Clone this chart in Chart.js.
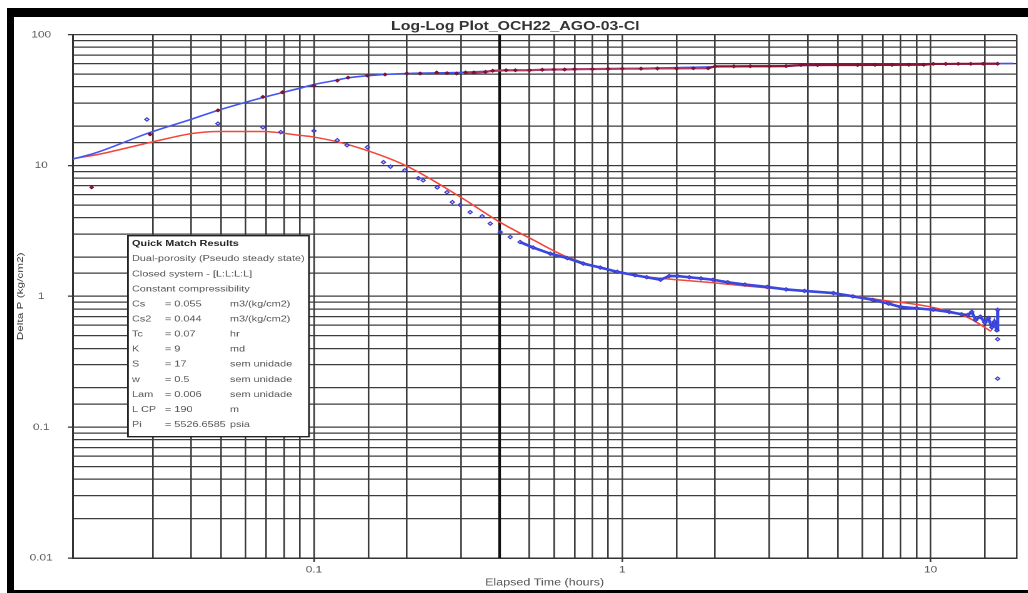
<!DOCTYPE html>
<html>
<head>
<meta charset="utf-8">
<script src="https://cdn.jsdelivr.net/npm/chart.js@4.4.1/dist/chart.umd.min.js"></script>
<style>
  html, body { margin: 0; padding: 0; background: #fff; }
  body { width: 1028px; height: 593px; position: relative; overflow: hidden; }
  .bar { position: absolute; background: #000; }
  /* the reference is stretched sideways, so the chart is drawn narrow and widened */
  #wrap { position: absolute; left: 14px; top: 17px; width: 811px; height: 573px;
          transform: scaleX(1.25); transform-origin: 0 0; }
</style>
</head>
<body>
<div class="bar" style="left:7px;top:8px;width:1021px;height:9px"></div>
<div class="bar" style="left:7px;top:8px;width:7px;height:585px"></div>
<div class="bar" style="left:7px;top:590px;width:1021px;height:3px"></div>
<div id="wrap"><canvas id="plot"></canvas></div>
<script>
const chartTitle = 'Log-Log Plot_OCH22_AGO-03-CI';
const xTitle = 'Elapsed Time (hours)';
const yTitle = 'Delta P (kg/cm2)';
const xRange = [0.0165, 19];
const yRange = [0.01, 100];
const markerTime = 0.4;

// pressure model (blue line)
const pModelT = [0.0165, 0.0194, 0.0294, 0.0405, 0.0488, 0.0683, 0.09, 0.1, 0.113, 0.131, 0.168, 0.2, 0.3, 0.4, 0.6, 1.0, 2.0, 4.0, 8.0, 12, 18.5];
const pModelP = [11.2, 12.4, 17.9, 22.8, 26.4, 33.1, 39.0, 41.6, 44.0, 47.0, 49.6, 50.5, 51.5, 53.0, 54.0, 55.0, 56.8, 58.2, 59.3, 59.8, 60.3];

// derivative model (red line)
const dModelT = [0.0165, 0.0194, 0.0294, 0.0405, 0.0488, 0.0683, 0.09, 0.1, 0.131, 0.2, 0.3, 0.4, 0.514, 0.663, 1.0, 1.97, 2.95, 4.84, 6.87, 10, 13.2, 15.7];
const dModelD = [11.3, 12.0, 15.0, 17.6, 18.2, 18.2, 17.0, 16.5, 14.3, 9.9, 5.7, 3.7, 2.7, 2.0, 1.51, 1.27, 1.16, 1.06, 0.94, 0.83, 0.69, 0.54];

// measured pressure
const pDataT = [0.019, 0.0294, 0.0488, 0.0683, 0.079, 0.1, 0.119, 0.129, 0.149, 0.17, 0.2, 0.221, 0.25, 0.27, 0.29, 0.31, 0.33, 0.36, 0.38, 0.42, 0.45, 0.5, 0.55, 0.6, 0.65, 0.7, 0.8, 0.9, 1.0, 1.15, 1.3, 1.5, 1.7, 1.9, 2.0, 2.3, 2.6, 3.0, 3.4, 3.8, 4.3, 5.0, 5.8, 6.6, 7.5, 8.5, 9.5, 10.2, 11.2, 12.3, 13.5, 14.8, 16.5];
const pDataP = [6.8, 17.3, 26.4, 33.5, 36.3, 40.7, 44.6, 47, 48.7, 49.6, 50.5, 50.5, 51.4, 50.8, 50.5, 51.4, 51.4, 52, 53, 53.5, 53.5, 53.5, 54, 54.2, 54.2, 54.5, 54.6, 54.8, 55, 55, 55.2, 55.2, 55.4, 55.4, 57.3, 57.3, 57.4, 57.4, 57.5, 58.6, 58.6, 58.7, 58.7, 58.8, 58.8, 58.9, 58.9, 59.8, 59.8, 59.9, 59.9, 60, 60];

// measured derivative
const dDataT = [0.0287, 0.0488, 0.0683, 0.078, 0.1, 0.119, 0.128, 0.149, 0.168, 0.177, 0.197, 0.218, 0.226, 0.251, 0.27, 0.281, 0.298, 0.321, 0.351, 0.373, 0.402, 0.433, 0.466, 0.514, 0.584, 0.663, 0.747, 0.848, 0.963, 1.1, 1.2, 1.33, 1.42, 1.51, 1.65, 1.8, 1.97, 2.2, 2.5, 2.95, 3.4, 3.9, 4.84, 5.6, 6.5, 7.3, 8.0, 9.0, 10.2, 11.5, 12.6, 13.2, 13.6, 14.0, 14.5, 15.0, 15.4, 15.8, 16.1, 16.4, 16.5, 16.5, 16.5];
const dDataD = [22.5, 20.9, 19.6, 18.0, 18.4, 15.6, 14.3, 13.8, 10.6, 9.8, 9.2, 8.0, 7.7, 6.8, 6.25, 5.25, 5.0, 4.4, 4.1, 3.6, 3.1, 2.84, 2.6, 2.36, 2.12, 1.96, 1.78, 1.66, 1.54, 1.45, 1.4, 1.34, 1.43, 1.43, 1.4, 1.37, 1.34, 1.28, 1.23, 1.18, 1.13, 1.1, 1.06, 1.0, 0.94, 0.88, 0.83, 0.81, 0.79, 0.76, 0.73, 0.72, 0.76, 0.66, 0.7, 0.63, 0.68, 0.58, 0.64, 0.55, 0.79, 0.47, 0.235];

// quick match text box
const matchTitle = 'Quick Match Results';
const matchNotes = ['Dual-porosity (Pseudo steady state)', 'Closed system - [L:L:L:L]', 'Constant compressibility'];
const matchNames = ['Cs', 'Cs2', 'Tc', 'K', 'S', 'w', 'Lam', 'L CP', 'Pi'];
const matchValues = ['0.055', '0.044', '0.07', '9', '17', '0.5', '0.006', '190', '5526.6585'];
const matchUnits = ['m3/(kg/cm2)', 'm3/(kg/cm2)', 'hr', 'md', 'sem unidade', 'sem unidade', 'sem unidade', 'm', 'psia'];

const FONT = '"Liberation Sans", Arial, sans-serif';
const toXY = (xs, ys) => xs.map((x, i) => ({ x: x, y: ys[i] }));
const isDecade = v => Math.abs(Math.log10(v) - Math.round(Math.log10(v))) < 1e-6;

const matchBox = {
    id: 'matchBox',
    afterDraw(chart) {
        const ctx = chart.ctx;
        const a = chart.chartArea;

        // y axis title, thin and long like the reference
        ctx.save();
        ctx.translate(5.2, (a.top + a.bottom) / 2);
        ctx.rotate(-Math.PI / 2);
        ctx.scale(1.18, 0.62);
        ctx.font = '10px ' + FONT;
        ctx.fillStyle = '#444';
        ctx.textAlign = 'center';
        ctx.textBaseline = 'middle';
        ctx.fillText(yTitle, 0, 0);
        ctx.restore();

        const bx = a.left + 44.2, by = a.top + 201, bw = 144.8, bh = 201;
        ctx.save();
        ctx.fillStyle = '#fff';
        ctx.fillRect(bx, by, bw, bh);
        ctx.strokeStyle = '#222';
        ctx.lineWidth = 1.4;
        ctx.strokeRect(bx, by, bw, bh);
        ctx.textBaseline = 'middle';
        ctx.textAlign = 'left';
        const step = 15.08;
        let y = by + 8;
        ctx.font = 'bold 8.7px ' + FONT;
        ctx.fillStyle = '#222';
        ctx.fillText(matchTitle, bx + 3.2, y);
        ctx.font = '8.7px ' + FONT;
        ctx.fillStyle = '#555';
        matchNotes.forEach(t => { y += step; ctx.fillText(t, bx + 3.2, y); });
        matchNames.forEach((n, i) => {
            y += step;
            ctx.fillText(n, bx + 3.2, y);
            ctx.fillText('= ' + matchValues[i], bx + 29.6, y);
            ctx.fillText(matchUnits[i], bx + 81.6, y);
        });
        ctx.restore();
    }
};

const gridOpts = {
    color: '#3c3c3c',
    lineWidth: 1.3,
    drawTicks: true,
    tickLength: 4,
    tickColor: c => (c.tick && isDecade(c.tick.value)) ? '#3c3c3c' : 'rgba(0,0,0,0)'
};

new Chart(document.getElementById('plot').getContext('2d'), {
    type: 'scatter',
    data: {
        datasets: [{
            label: 'Derivative data',
            data: toXY(dDataT, dDataD),
            order: 1,
            showLine: true,
            borderColor: '#3848e2',
            borderWidth: 2.6,
            segment: {
                borderColor: s => (s.p0.parsed.x >= 0.45 && s.p0.parsed.y >= 0.5 && s.p1.parsed.y >= 0.5) ? undefined : 'rgba(0,0,0,0)'
            },
            pointStyle: 'rectRot',
            pointRadius: 1.7,
            pointBorderWidth: 1,
            pointBorderColor: '#3a3ad0',
            pointBackgroundColor: 'rgba(120,130,240,0.4)'
        }, {
            label: 'Pressure data',
            data: toXY(pDataT, pDataP),
            order: 2,
            showLine: true,
            borderColor: '#8e1234',
            borderWidth: 2.2,
            segment: {
                borderColor: s => s.p0.parsed.x < 0.3 ? 'rgba(0,0,0,0)' : (s.p0.parsed.x < 1.9 ? '#b03a6a' : undefined)
            },
            pointStyle: 'rectRot',
            pointRadius: 1.4,
            pointBorderWidth: 1,
            pointBorderColor: '#7a1030',
            pointBackgroundColor: '#9a1838'
        }, {
            label: 'Pressure model',
            data: toXY(pModelT, pModelP),
            order: 3,
            showLine: true,
            cubicInterpolationMode: 'monotone',
            borderColor: '#4456f2',
            borderWidth: 1.6,
            pointRadius: 0
        }, {
            label: 'Derivative model',
            data: toXY(dModelT, dModelD),
            order: 4,
            showLine: true,
            cubicInterpolationMode: 'monotone',
            borderColor: '#f2473a',
            borderWidth: 1.5,
            pointRadius: 0
        }, {
            label: 'Marker',
            data: [{ x: markerTime, y: yRange[0] }, { x: markerTime, y: yRange[1] }],
            order: 5,
            showLine: true,
            borderColor: '#111',
            borderWidth: 2.2,
            pointRadius: 0
        }]
    },
    options: {
        responsive: true,
        maintainAspectRatio: false,
        devicePixelRatio: 2,
        animation: false,
        layout: { padding: { top: 0, right: 9, bottom: 0, left: 0 } },
        scales: {
            x: {
                type: 'logarithmic',
                min: xRange[0],
                max: xRange[1],
                afterFit: s => { s.height = 32; },
                grid: gridOpts,
                border: { display: true, color: '#333', width: 1.5 },
                ticks: {
                    autoSkip: false,
                    maxRotation: 0,
                    padding: 2,
                    color: '#555',
                    font: { family: FONT, size: 9.5 },
                    callback: v => isDecade(v) ? String(+Number(v).toPrecision(3)) : ''
                },
                title: {
                    display: true,
                    text: xTitle,
                    color: '#555',
                    font: { family: FONT, size: 10 },
                    padding: { top: 0, bottom: 1.5 }
                }
            },
            y: {
                type: 'logarithmic',
                min: yRange[0],
                max: yRange[1],
                afterFit: s => { s.width = 47; },
                grid: gridOpts,
                border: { display: true, color: '#333', width: 1.5 },
                ticks: {
                    autoSkip: false,
                    crossAlign: 'center',
                    padding: 12,
                    color: '#555',
                    font: { family: FONT, size: 9.5 },
                    callback: v => isDecade(v) ? String(+Number(v).toPrecision(3)) : ''
                }
            }
        },
        plugins: {
            legend: { display: false },
            tooltip: { enabled: false },
            title: {
                display: true,
                text: chartTitle,
                color: '#333',
                padding: 0,
                font: { family: FONT, size: 12.7, weight: 'bold', lineHeight: '16px' }
            }
        }
    },
    plugins: [matchBox]
});
</script>
</body>
</html>
